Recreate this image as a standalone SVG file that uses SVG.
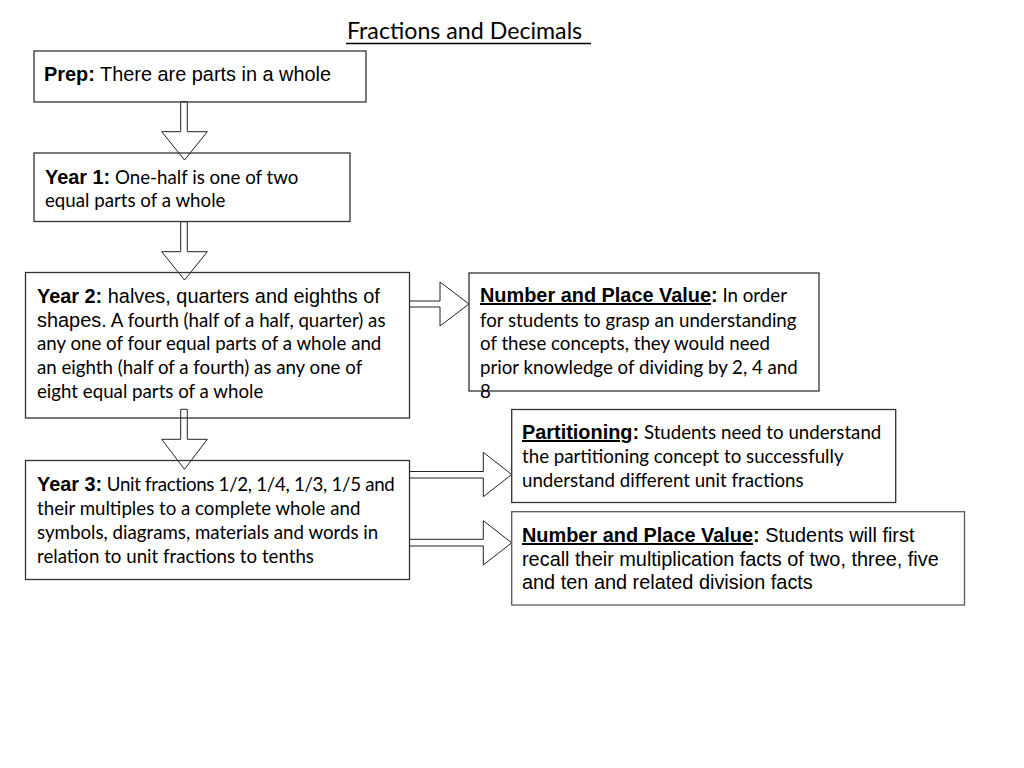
<svg xmlns="http://www.w3.org/2000/svg" width="1024" height="768" viewBox="0 0 1024 768">
<style>
.box{fill:none;stroke:#333;stroke-width:1.3}
.box2{fill:none;stroke:#595959;stroke-width:1.3}
.arr{fill:#fff;stroke:#222;stroke-width:1}
text{fill:#000}
.c{font-family:Lato,"Open Sans",sans-serif;font-size:18.7px}
.a{font-family:"Liberation Sans",Arial,sans-serif;font-size:19.9px}
.b{font-family:"Liberation Sans",Arial,sans-serif;font-size:19.9px;font-weight:bold}
.u{text-decoration:underline}
</style>
<rect width="1024" height="768" fill="#fff"/>
<g id="title">
<text x="347" y="38.5" class="c" style="font-size:23.2px">Fractions and Decimals</text>
<line x1="346" y1="43.5" x2="591" y2="43.5" stroke="#000" stroke-width="1.3"/>
</g>
<g id="connectors">
<polygon class="arr" points="180.7,101.7 187.3,101.7 187.3,131.7 207.3,131.7 184.5,160 161.7,131.7 180.7,131.7"/>
<polygon class="arr" points="180.7,221.7 187.3,221.7 187.3,251.7 207.3,251.7 184.5,280 161.7,251.7 180.7,251.7"/>
<polygon class="arr" points="180.7,409.3 187.3,409.3 187.3,439.3 207.3,439.3 184.5,469.3 161.7,439.3 180.7,439.3"/>
<polygon class="arr" points="409.5,301 440,301 440,282 469,304 440,326 440,307 409.5,307"/>
<polygon class="arr" points="409.5,471.5 483.3,471.5 483.3,452.3 511.7,474.5 483.3,496.7 483.3,478 409.5,478"/>
<polygon class="arr" points="409.5,539.3 483.3,539.3 483.3,520.7 511.7,542.8 483.3,565 483.3,546 409.5,546"/>
</g>
<g id="prep">
<rect class="box" x="34" y="51" width="332" height="51"/>
<text x="44" y="81"><tspan class="b">Prep:</tspan><tspan class="a"> There are parts in a whole</tspan></text>
</g>
<g id="year1">
<rect class="box" x="34" y="153" width="316" height="68.5"/>
<text x="45" y="184"><tspan class="b">Year 1:</tspan><tspan class="c"> One-half is one of two</tspan></text>
<text x="45" y="207" class="c">equal parts of a whole</text>
</g>
<g id="year2">
<rect class="box" x="25.5" y="272.5" width="384" height="145.5"/>
<text x="37" y="303"><tspan class="b">Year 2:</tspan><tspan class="a"> halves, quarters and eighths of</tspan></text>
<text x="37" y="327"><tspan class="a">shapes.</tspan><tspan class="c"> A fourth (half of a half, quarter) as</tspan></text>
<text x="37" y="350" class="c">any one of four equal parts of a whole and</text>
<text x="37" y="374" class="c">an eighth (half of a fourth) as any one of</text>
<text x="37" y="398" class="c">eight equal parts of a whole</text>
</g>
<g id="year3">
<rect class="box" x="25.5" y="460.5" width="384" height="119"/>
<text x="37" y="491"><tspan class="b">Year 3:</tspan><tspan class="c" style="letter-spacing:-0.3px"> Unit fractions 1/2, 1/4, 1/3, 1/5 and</tspan></text>
<text x="37" y="515" class="c">their multiples to a complete whole and</text>
<text x="37" y="539" class="c">symbols, diagrams, materials and words in</text>
<text x="37" y="563" class="c">relation to unit fractions to tenths</text>
</g>
<g id="npv1">
<rect class="box" x="469" y="273" width="350" height="118"/>
<text x="480" y="302"><tspan class="b u">Number and Place Value</tspan><tspan class="b">:</tspan><tspan class="c"> In order</tspan></text>
<text x="480" y="327" class="c">for students to grasp an understanding</text>
<text x="480" y="350" class="c">of these concepts, they would need</text>
<text x="480" y="374" class="c">prior knowledge of dividing by 2, 4 and</text>
<text x="480" y="398" class="c">8</text>
</g>
<g id="partitioning">
<rect class="box" x="511.7" y="409.5" width="384" height="93"/>
<text x="522" y="439"><tspan class="b u">Partitioning</tspan><tspan class="b">:</tspan><tspan class="c"> Students need to understand</tspan></text>
<text x="522" y="463" class="c">the partitioning concept to successfully</text>
<text x="522" y="487" class="c">understand different unit fractions</text>
</g>
<g id="npv2">
<rect class="box2" x="511.7" y="511.7" width="452.8" height="93.3"/>
<text x="522" y="542"><tspan class="b u">Number and Place Value</tspan><tspan class="b">:</tspan><tspan class="a"> Students will first</tspan></text>
<text x="522" y="566" class="a">recall their multiplication facts of two, three, five</text>
<text x="522" y="589" class="a">and ten and related division facts</text>
</g>
</svg>
